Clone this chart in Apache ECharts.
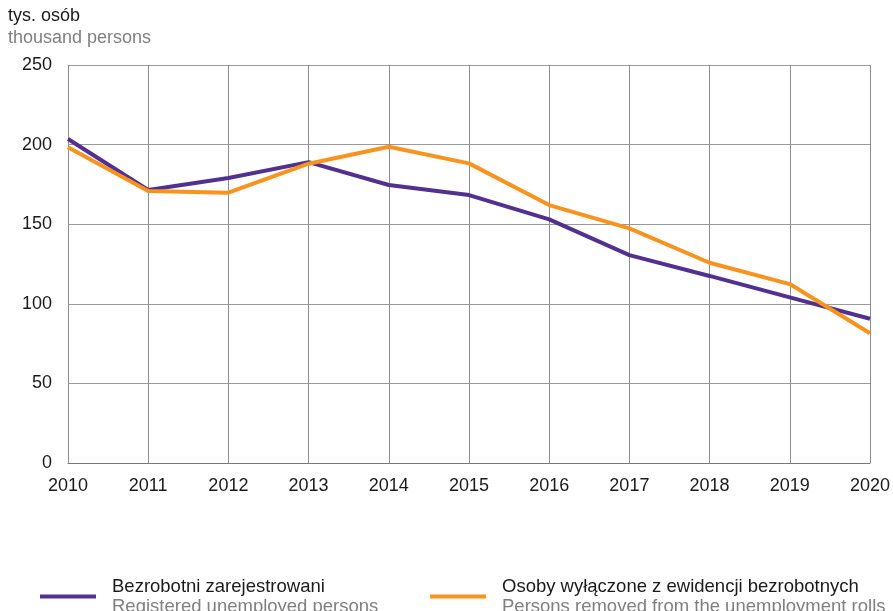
<!DOCTYPE html>
<html>
<head>
<meta charset="utf-8">
<script src="https://cdn.jsdelivr.net/npm/echarts@6/dist/echarts.min.js"></script>
<style>
  html, body { margin: 0; padding: 0; background: #fff; }
  #chart { width: 893px; height: 611px; }
</style>
</head>
<body>
<div id="chart"></div>
<script>
const years = ['2010', '2011', '2012', '2013', '2014', '2015', '2016', '2017', '2018', '2019', '2020'];
const registered = [203.5, 171.5, 179, 189, 174.6, 168.3, 153, 130.6, 117.5, 104, 90.6];
const removed = [198.3, 170.8, 169.8, 188, 198.7, 188.2, 162, 147.4, 125.8, 112.4, 81.5];
const seriesNames = ['Bezrobotni zarejestrowani', 'Osoby wyłączone z ewidencji bezrobotnych'];
const seriesNamesEn = ['Registered unemployed persons', 'Persons removed from the unemployment rolls'];
const colors = ['#52308f', '#f7931e'];

const font = 'Liberation Sans, Arial, sans-serif';

// legenda: dwa wiersze, polski na czarno i angielski na szaro
function legendFor(i, left) {
    return {
        left: left,
        top: 572,
        data: [seriesNames[i]],
        icon: 'rect',
        itemWidth: 56,
        itemHeight: 4,
        formatter: name => '{a|' + name + '}\n{b|' + seriesNamesEn[i] + '}',
        textStyle: {
            fontFamily: font,
            rich: {
                a: { fontSize: 18.5, color: '#1a1a1a', fontFamily: font, lineHeight: 20, padding: [0, 0, 0, 11] },
                b: { fontSize: 18.5, color: '#7f7f7f', fontFamily: font, lineHeight: 20, padding: [0, 0, 0, 11] }
            }
        },
        selectedMode: false
    };
}

const chart = echarts.init(document.getElementById('chart'));
chart.setOption({
    animation: false,
    color: colors,
    graphic: [
        { type: 'text', left: 8, top: 7, style: { text: 'tys. osób', fontSize: 18, fill: '#1a1a1a', fontFamily: font } },
        { type: 'text', left: 8, top: 29, style: { text: 'thousand persons', fontSize: 18, fill: '#808080', fontFamily: font } }
    ],
    legend: [legendFor(0, 35), legendFor(1, 425)],
    grid: { left: 68, right: 23, top: 65, bottom: 148 },
    xAxis: {
        type: 'category',
        data: years,
        boundaryGap: false,
        axisLine: { lineStyle: { color: '#777', width: 1 } },
        axisTick: { show: false },
        axisLabel: { color: '#1a1a1a', fontSize: 18, fontFamily: font, margin: 14 },
        splitLine: { show: true, lineStyle: { color: '#8c8c8c', width: 1 } }
    },
    yAxis: {
        type: 'value',
        min: 0,
        max: 250,
        interval: 50,
        axisLine: { show: false },
        axisTick: { show: false },
        axisLabel: { color: '#1a1a1a', fontSize: 18, fontFamily: font, margin: 16 },
        splitLine: { lineStyle: { color: '#9a9a9a', width: 1 } }
    },
    series: [
        {
            name: seriesNames[0],
            type: 'line',
            data: registered,
            symbol: 'none',
            lineStyle: { width: 4, color: colors[0] },
            z: 3
        },
        {
            name: seriesNames[1],
            type: 'line',
            data: removed,
            symbol: 'none',
            lineStyle: { width: 4, color: colors[1] },
            z: 4
        }
    ]
});
</script>
</body>
</html>
